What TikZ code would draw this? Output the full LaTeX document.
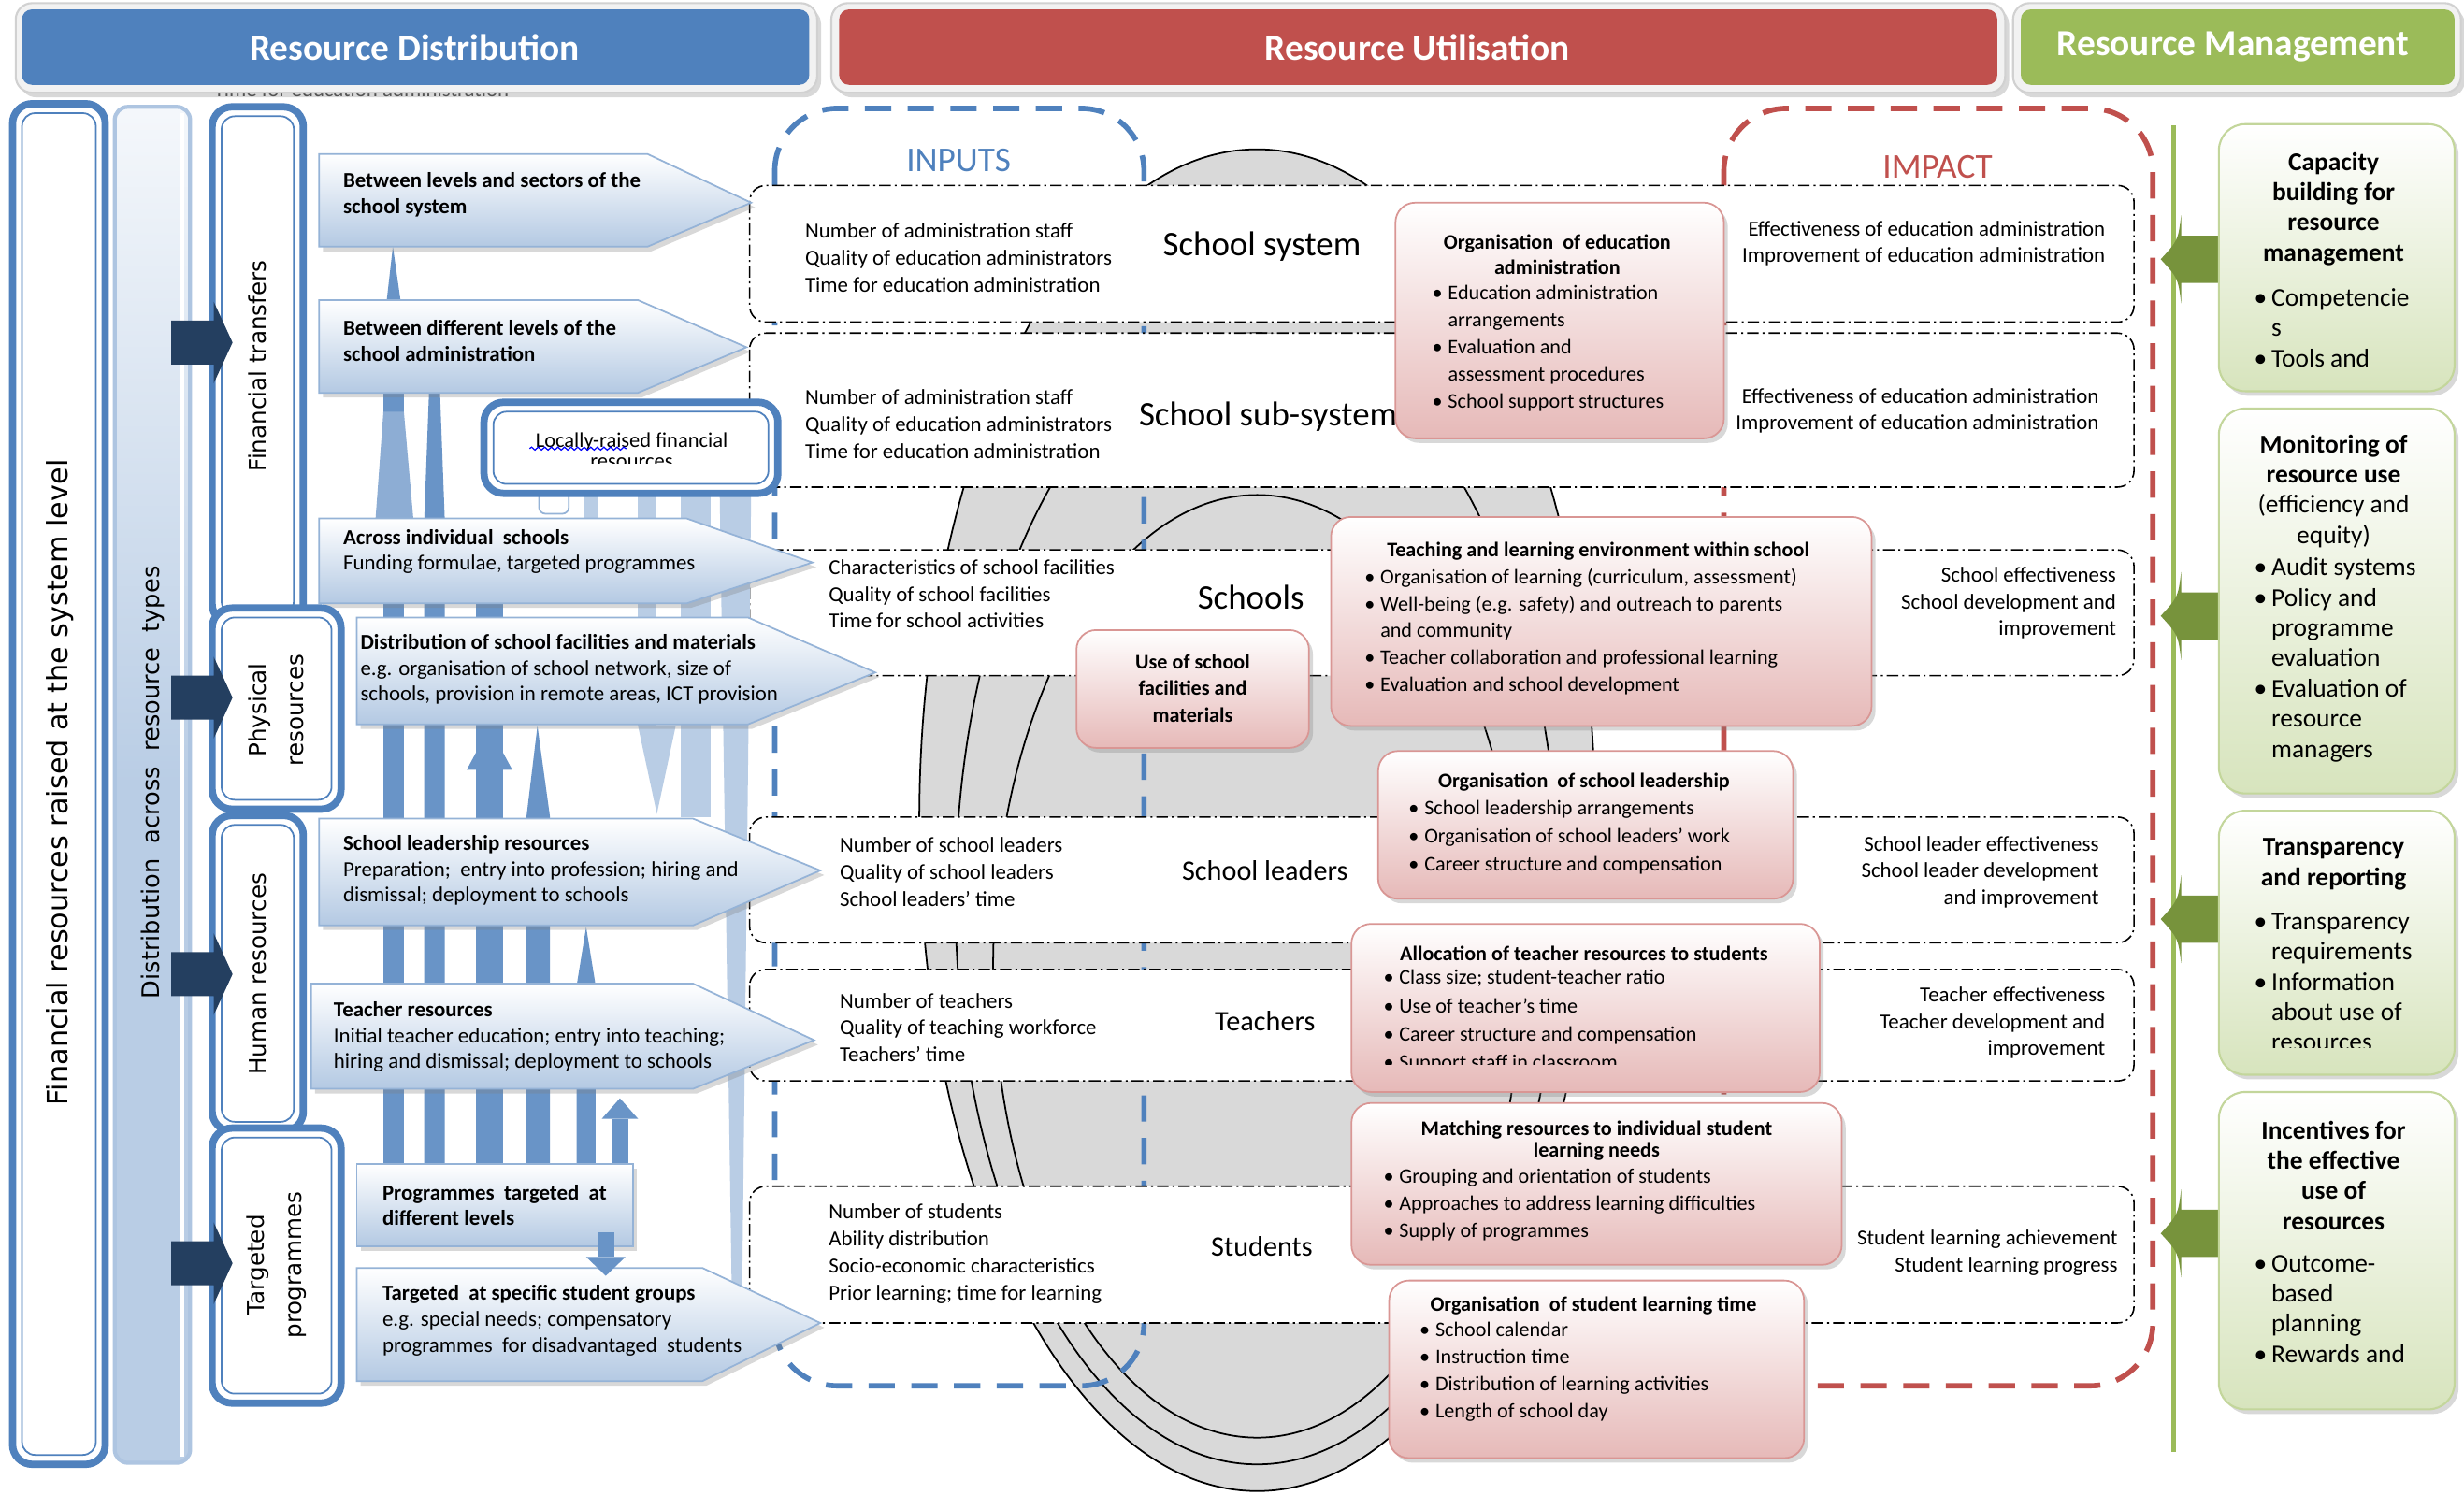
\documentclass[tikz,border=0pt]{standalone}
\usepackage{fontspec}
\setmainfont{Carlito}
\newfontfamily\dvs{DejaVu Sans}
\usetikzlibrary{shadows,decorations.pathmorphing}
\definecolor{cBlue}{RGB}{79,129,189}
\definecolor{cBlueL}{RGB}{185,205,229}
\definecolor{cBlueM}{RGB}{149,179,215}
\definecolor{cNavy}{RGB}{36,63,96}
\definecolor{cRed}{RGB}{192,80,77}
\definecolor{cPink}{RGB}{230,185,184}
\definecolor{cPinkB}{RGB}{217,150,148}
\definecolor{cGreen}{RGB}{155,187,89}
\definecolor{cGreenD}{RGB}{119,147,60}
\definecolor{cGreenL}{RGB}{215,228,189}
\definecolor{cGreenB}{RGB}{195,214,155}
\definecolor{cGray}{RGB}{217,217,217}
\newcommand{\fs}[2]{\fontsize{#1}{#2}\selectfont}
\newcommand{\bu}{\makebox[4.8pt][l]{\textbullet}}
\newcommand{\bi}{\hspace*{4.8pt}}
\newcommand{\gbu}{\makebox[5.3pt][l]{\textbullet}}
\newcommand{\gbi}{\hspace*{5.3pt}}
\newcommand{\mydbox}[4]{%
  \pgfmathsetmacro\mdxa{#1+6}\pgfmathsetmacro\mdya{#2+6}%
  \pgfmathsetmacro\mdxb{#3-6}\pgfmathsetmacro\mdyb{#4-6}%
  \path[dbo] (#1,#2) rectangle (#3,#4);
  \draw[dbi] (\mdxa,\mdya) rectangle (\mdxb,\mdyb);}
\newcommand{\navarr}[1]{%
  \pgfmathsetmacro\nya{#1-14}\pgfmathsetmacro\nyb{#1+14}%
  \pgfmathsetmacro\nyc{#1-26}\pgfmathsetmacro\nyd{#1+26}%
  \fill[cNavy] (109,\nya) -- (136,\nya) -- (136,\nyc) -- (148,#1) -- (136,\nyd) -- (136,\nyb) -- (109,\nyb) -- cycle;}
\newcommand{\garrow}[1]{%
  \pgfmathsetmacro\gya{#1-15}\pgfmathsetmacro\gyb{#1+15}%
  \pgfmathsetmacro\gyc{#1-28}\pgfmathsetmacro\gyd{#1+28}%
  \pgfmathsetmacro\gye{#1-12}\pgfmathsetmacro\gyf{#1+12}%
  \fill[cGreenD] (1412,\gya) -- (1388,\gya) -- (1388,\gyc) .. controls (1386,\gye) .. (1375,#1) .. controls (1386,\gyf) .. (1388,\gyd) -- (1388,\gyb) -- (1412,\gyb) -- cycle;}
\newcommand{\larrow}[6]{\path[larr] (#1,#4) -- (#2,#4) -- (#3,#6) -- (#2,#5) -- (#1,#5) -- cycle;}
\begin{document}
\begin{tikzpicture}[x=0.016805cm,y=-0.016805cm,
  shad/.style={drop shadow={opacity=0.3,shadow xshift=1.2pt,shadow yshift=-1.4pt}},
  hdrframe/.style={fill=black!5,draw=black!18,line width=0.6pt,rounded corners=5pt,shad},
  hdrtxt/.style={text=white,font=\bfseries\fs{11.2}{13},inner sep=0},
  dbo/.style={draw=cBlue,line width=2.2pt,fill=white,rounded corners=6pt},
  dbi/.style={draw=cBlue,line width=0.5pt,rounded corners=4pt},
  rot/.style={rotate=90,font=\dvs\fs{7}{11.4},align=center,inner sep=0},
  larr/.style={top color=white,bottom color=cBlueL!85!cBlueM,draw=cBlueM,line width=0.5pt,shad},
  atxt/.style={font=\fs{6.5}{7.9},align=left,anchor=west,inner sep=0},
  barM/.style={fill=cBlue!85!white},
  barW/.style={fill=cBlue!65!white},
  barL/.style={fill=cBlueL},
  rowbox/.style={draw=black,line width=0.45pt,dash pattern=on 3.5pt off 1.2pt on 0.6pt off 1.2pt,fill=white,rounded corners=5pt},
  intxt/.style={font=\fs{6.5}{8.2},align=left,anchor=west,inner sep=0},
  imtxt/.style={font=\fs{6.5}{8.1},align=right,anchor=east,inner sep=0},
  lvlA/.style={font=\fs{10.5}{12},inner sep=0},
  lvlB/.style={font=\fs{8.6}{10},inner sep=0},
  pinkbox/.style={rounded corners=6pt,draw=cPinkB,line width=0.5pt,top color=white,bottom color=cPink,shad},
  ptit/.style={font=\bfseries\fs{6.3}{7.6},align=center,inner sep=0},
  pbul/.style={font=\fs{6.3}{8.2},align=left,anchor=west,inner sep=0},
  greenbox/.style={rounded corners=8pt,draw=cGreenB,line width=0.6pt,top color=white,bottom color=cGreenL,shad},
  gtit/.style={font=\fs{7.8}{9.2},align=center,inner sep=0},
  gbul/.style={font=\fs{7.8}{9.2},align=left,anchor=west,inner sep=0},
  inbox/.style={cBlue,line width=1.6pt,dash pattern=on 8pt off 5pt,rounded corners=19pt},
  imbox/.style={cRed,line width=1.6pt,dash pattern=on 8pt off 5pt,rounded corners=19pt}
]
\useasboundingbox (0,0) rectangle (1568,951);
\fill[white] (0,0) rectangle (1568,951);

% ---------- headers ----------
\node[font=\fs{6.5}{8},text=black!75,inner sep=0] (ghost) at (230,57) {Time for education administration};
\path[hdrframe] (10,2) rectangle (520,59);
\fill[cBlue,rounded corners=3pt] (14,6) rectangle (515,54);
\node[hdrtxt] (h1) at (264,30) {Resource Distribution};
\path[hdrframe] (529,2) rectangle (1276,59);
\fill[cRed,rounded corners=3pt] (534,6) rectangle (1271,54);
\node[hdrtxt] (h2) at (902,30) {Resource Utilisation};
\path[hdrframe] (1281,2) rectangle (1566,59);
\fill[cGreen,rounded corners=3pt] (1286,6) rectangle (1562,54);
\node[hdrtxt] (h3) at (1421,30) {Resource Management};

% ---------- nested ellipses ----------
\filldraw[fill=cGray,draw=black,line width=0.5pt] (800,522) ellipse [x radius=215,y radius=427];
\draw[black,line width=0.5pt] (800,572) ellipse [x radius=192,y radius=360];
\draw[black,line width=0.5pt] (800,615) ellipse [x radius=168,y radius=300];

% ---------- inputs / impact frames ----------
\draw[inbox] (493,69) rectangle (728,882);
\draw[imbox] (1097,69) rectangle (1370,882);
\node[font=\fs{10.6}{12},text=cBlue,inner sep=0] (inputs) at (610,102) {INPUTS};
\node[font=\fs{10.6}{12},text=cRed,inner sep=0] (impact) at (1233,106) {IMPACT};

% ---------- rows ----------
\path[rowbox] (477,118) rectangle (1358,205);
\path[rowbox] (477,212) rectangle (1358,310);
\path[rowbox] (477,350) rectangle (1358,430);
\path[rowbox] (477,520) rectangle (1358,600);
\path[rowbox] (477,617) rectangle (1358,688);
\path[rowbox] (477,755) rectangle (1358,842);

\node[intxt] (in1) at (512,164) {Number of administration staff\\Quality of education administrators\\Time for education administration};
\node[lvlA] (l1) at (803,157) {School system};
\node[imtxt] (im1) at (1340,155) {Effectiveness of education administration\\Improvement of education administration};

\node[intxt] (in2) at (512,270) {Number of administration staff\\Quality of education administrators\\Time for education administration};
\node[lvlA] (l2) at (807,265) {School sub-system};
\node[imtxt] (im2) at (1336,261.5) {Effectiveness of education administration\\Improvement of education administration};

\node[intxt] (in3) at (527,378) {Characteristics of school facilities\\Quality of school facilities\\Time for school activities};
\node[lvlA] (l3) at (796,380) {Schools};
\node[imtxt] (im3) at (1347,384) {School effectiveness\\School development and\\improvement};

\node[intxt] (in4) at (534,555) {Number of school leaders\\Quality of school leaders\\School leaders’ time};
\node[lvlB] (l4) at (805,554) {School leaders};
\node[imtxt] (im4) at (1336,555) {School leader effectiveness\\School leader development\\and improvement};

\node[intxt] (in5) at (534,654) {Number of teachers\\Quality of teaching workforce\\Teachers’ time};
\node[lvlB] (l5) at (805,650) {Teachers};
\node[imtxt] (im5) at (1340,651) {Teacher effectiveness\\Teacher development and\\improvement};

\node[intxt] (in6) at (527,798) {Number of students\\Ability distribution\\Socio-economic characteristics\\Prior learning; time for learning};
\node[lvlB] (l6) at (803,793) {Students};
\node[imtxt] (im6) at (1348,797.5) {Student learning achievement\\Student learning progress};

% ---------- pink boxes ----------
\path[pinkbox] (888,129) rectangle (1097,279);
\node[ptit] (p1t) at (991,162) {Organisation\ \ of education\\administration};
\node[pbul] (p1b) at (911,221.7) {\bu Education administration\\\bi arrangements\\\bu Evaluation and\\\bi assessment procedures\\\bu School support structures};

\path[pinkbox] (847,329) rectangle (1191,462);
\node[ptit] (p2t) at (1017,351) {Teaching and learning environment within school};
\node[pbul] (p2b) at (868,402) {\bu Organisation of learning (curriculum, assessment)\\\bu Well-being (e.g. safety) and outreach to parents\\\bi and community\\\bu Teacher collaboration and professional learning\\\bu Evaluation and school development};

\path[pinkbox] (685,401) rectangle (833,476);
\node[ptit,font=\bfseries\fs{6.3}{8.1}] (p3t) at (759,438) {Use of school\\facilities and\\materials};

\path[pinkbox] (877,478) rectangle (1141,572);
\node[ptit] (p4t) at (1008,498) {Organisation\ \ of school leadership};
\node[pbul,font=\fs{6.3}{8.6}] (p4b) at (896,533) {\bu School leadership arrangements\\\bu Organisation of school leaders’ work\\\bu Career structure and compensation};

\path[pinkbox] (860,588) rectangle (1158,695);
\node[ptit] (p5t) at (1008,607) {Allocation of teacher resources to students};
\begin{scope}
\clip (860,612) rectangle (1158,677.5);
\node[pbul,font=\fs{6.3}{8.6}] (p5b) at (880,650) {\bu Class size; student-teacher ratio\\\bu Use of teacher’s time\\\bu Career structure and compensation\\\bu Support staff in classroom};
\end{scope}

\path[pinkbox] (860,702) rectangle (1172,805);
\node[ptit,font=\bfseries\fs{6.3}{6.7}] (p6t) at (1016,726) {Matching resources to individual student\\learning needs};
\node[pbul] (p6b) at (880,767) {\bu Grouping and orientation of students\\\bu Approaches to address learning difficulties\\\bu Supply of programmes};

\path[pinkbox] (884,815) rectangle (1148,928);
\node[ptit] (p7t) at (1014,831) {Organisation\ \ of student learning time};
\node[pbul] (p7b) at (903,873) {\bu School calendar\\\bu Instruction time\\\bu Distribution of learning activities\\\bu Length of school day};

% ---------- resource management ----------
\draw[cGreen,line width=1.5pt] (1383,80) -- (1383,924);
\garrow{165}
\garrow{392}
\garrow{585}
\garrow{785}

\path[greenbox] (1412,79) rectangle (1562,249);
\node[gtit,font=\bfseries\fs{7.8}{9.2}] (g1t) at (1485,133) {Capacity\\building for\\resource\\management};
\node[gbul] (g1b) at (1434,208.5) {\gbu Competencie\\\gbi s\\\gbu Tools and};

\path[greenbox] (1412,260) rectangle (1562,505);
\node[gtit] (g2t) at (1485,312.5) {\textbf{Monitoring of}\\\textbf{resource use}\\(efficiency and\\equity)};
\node[gbul] (g2b) at (1434,420) {\gbu Audit systems\\\gbu Policy and\\\gbi programme\\\gbi evaluation\\\gbu Evaluation of\\\gbi resource\\\gbi managers};

\path[greenbox] (1412,516) rectangle (1562,684);
\node[gtit,font=\bfseries\fs{7.8}{9.2}] (g3t) at (1485,550) {Transparency\\and reporting};
\begin{scope}
\clip (1412,570) rectangle (1562,667);
\node[gbul] (g3b) at (1434,625) {\gbu Transparency\\\gbi requirements\\\gbu Information\\\gbi about use of\\\gbi resources};
\end{scope}

\path[greenbox] (1412,695) rectangle (1562,897);
\node[gtit,font=\bfseries\fs{7.8}{9.2}] (g4t) at (1485,748) {Incentives for\\the effective\\use of\\resources};
\node[gbul] (g4b) at (1434,833) {\gbu Outcome-\\\gbi based\\\gbi planning\\\gbu Rewards and};

% ---------- resource distribution: columns ----------
\mydbox{8}{66}{67}{932}
\node[rot,font=\dvs\fs{8.6}{10}] (c1) at (38,498) {Financial resources raised at the system level};
\path[top color=cBlueL!15,bottom color=cBlueL,middle color=cBlueL,draw=cBlueL!70!cBlueM,line width=1.2pt,rounded corners=4pt] (73,68) rectangle (121,931);
\draw[white,line width=1pt] (116,72) -- (116,927);
\node[rot,font=\dvs\fs{7.3}{9}] (c2) at (97,498) {Distribution\ \ across\ \ resource\ \ types};

% vertical connecting bars
\fill[barM] (246,192) -- (250,157) -- (255,192) -- cycle;
\fill[barM] (244,250) rectangle (257,745);
\fill[barW] (244,262) -- (257,262) -- (263,330) -- (239,330) -- cycle;
\fill[barM] (273,250) -- (280,250) -- (283,330) -- (283,745) -- (270,745) -- (270,330) -- cycle;
\fill[barM] (303,384) rectangle (320,745);
\fill[barM] (297,490) -- (311.5,463) -- (326,490) -- cycle;
\fill[barM] (342,462) -- (350,520) -- (350,745) -- (335,745) -- (335,520) -- cycle;
\fill[barM] (373,590) -- (379,627) -- (379,745) -- (367,745) -- (367,627) -- cycle;
\fill[barM] (389,712) rectangle (400,745);
\fill[barM] (383,712) -- (394.5,699) -- (406,712) -- cycle;
\fill[barL] (372,314) rectangle (381,330);
\fill[barL] (406,314) rectangle (418,462);
\fill[barL] (406,462) -- (430,462) -- (418,518) -- cycle;
\fill[barL] (433,314) rectangle (452,520);
\fill[barL] (458,314) -- (478,314) -- (472,845) -- (466,845) -- cycle;

% arrows
\larrow{203}{412}{478}{98}{157}{129}
\larrow{203}{406}{475}{191}{250}{221}
\larrow{203}{437}{517}{330}{384}{358}
\larrow{227}{476}{557}{393}{461}{428}
\larrow{203}{441}{522}{521}{589}{554}
\larrow{198}{441}{518}{626}{693}{662}
\path[larr] (227,741) rectangle (403,793);
\larrow{227}{447}{522}{807}{879}{842}

\node[atxt,font=\bfseries\fs{6.5}{7.9}] (a1) at (218,124) {Between levels and sectors of the\\school system};
\node[atxt,font=\bfseries\fs{6.5}{7.9}] (a2) at (218,217) {Between different levels of the\\school administration};
\node[atxt] (a3) at (218,351) {\textbf{Across individual\ \ schools}\\Funding formulae, targeted programmes};
\node[atxt] (a4) at (229,426) {\textbf{Distribution of school facilities and materials}\\e.g. organisation of school network, size of\\schools, provision in remote areas, ICT provision};
\node[atxt] (a5) at (218,554) {\textbf{School leadership resources}\\Preparation;\ \ entry into profession; hiring and\\dismissal; deployment to schools};
\node[atxt] (a6) at (212,660) {\textbf{Teacher resources}\\Initial teacher education; entry into teaching;\\hiring and dismissal; deployment to schools};
\node[atxt,font=\bfseries\fs{6.5}{7.9}] (a7) at (243,767) {Programmes\ \ targeted\ \ at\\different levels};
\node[atxt] (a8) at (243,840.5) {\textbf{Targeted\ \ at specific student groups}\\e.g. special needs; compensatory\\programmes\ \ for disadvantaged\ \ students};

% small down arrow
\fill[barM] (380,784) rectangle (391,800);
\fill[barM] (373,800) -- (398,800) -- (385.5,812) -- cycle;

% locally raised box
\path[fill=white,draw=cBlueM,line width=0.5pt,rounded corners=2pt] (343,306) rectangle (362,327);
\path[dbo] (308,256) rectangle (495,314);
\draw[dbi] (314,262) rectangle (489,308);
\begin{scope}
\clip (314,262) rectangle (489,295);
\node[font=\fs{6.4}{6.2},align=center,inner sep=0] (loc) at (402,286.5) {Locally-raised financial\\resources};
\end{scope}
\draw[blue,line width=0.35pt,decorate,decoration={snake,amplitude=0.45pt,segment length=2pt}] (337,285.5) -- (399,285.5);

% column 3 boxes
\mydbox{135}{68}{193}{397}
\mydbox{135}{387}{217}{515}
\mydbox{135}{519}{193}{720}
\mydbox{135}{718}{217}{893}
\node[rot] (t1) at (164,233) {Financial transfers};
\node[rot] (t2) at (176,452) {Physical\\resources};
\node[rot] (t3) at (164,620) {Human resources};
\node[rot] (t4) at (176,805) {Targeted\\programmes};

\navarr{218}
\navarr{444}
\navarr{620}
\navarr{804}
\end{tikzpicture}
\end{document}
